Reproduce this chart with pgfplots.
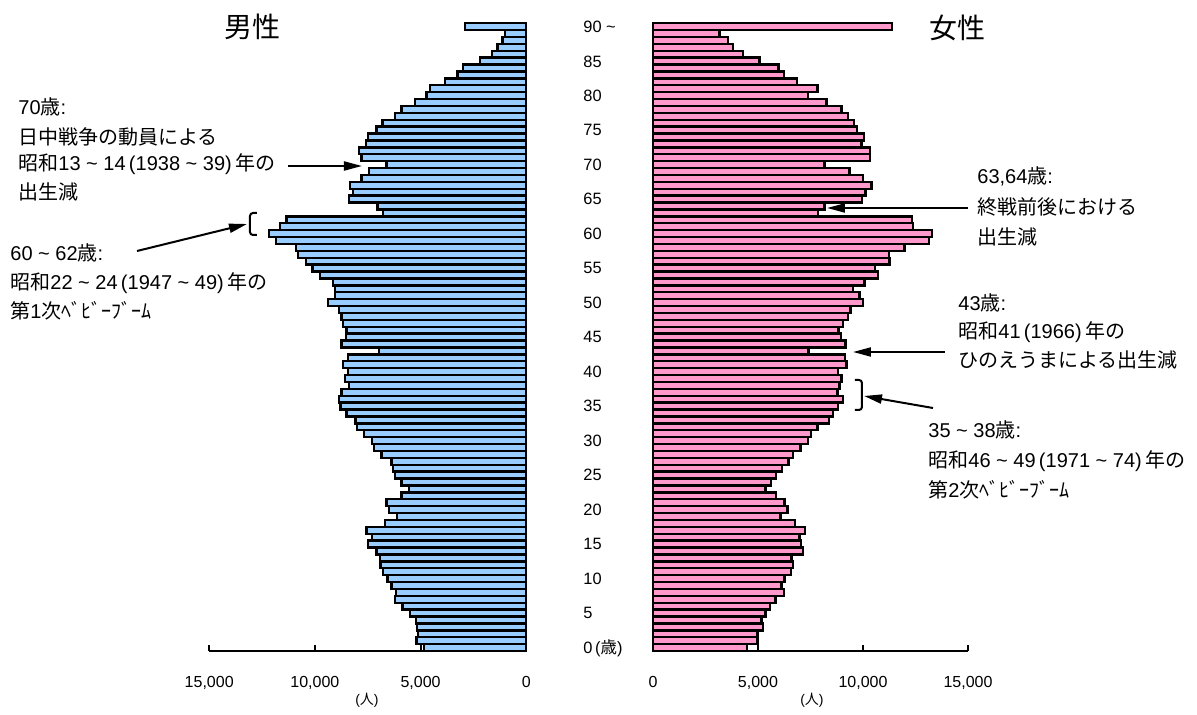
\documentclass[border=0pt]{standalone}
\usepackage{fontspec}
\setmainfont{Liberation Sans}
\newfontfamily\jp{Noto Sans CJK JP}
\usepackage{pgfplots}
\pgfplotsset{compat=1.18}
\usepackage{pgfplotstable}
\usetikzlibrary{arrows.meta}

\definecolor{malebar}{RGB}{153,204,255}
\definecolor{femalebar}{RGB}{255,153,204}
\newcommand{\J}[1]{{\jp #1}}
\newcommand{\tl}{\textasciitilde}

% population by age (persons), age 90 = 90 and over
\pgfplotstableread{
age male female
0 4840 4490
1 5190 4970
2 5110 4970
3 5160 5240
4 5220 5160
5 5500 5350
6 5850 5560
7 6210 5830
8 6170 6240
9 6370 6110
10 6560 6270
11 6770 6560
12 6890 6680
13 6920 6590
14 7080 7140
15 7480 7060
16 7290 6980
17 7560 7250
18 6690 6750
19 6100 6080
20 6500 6400
21 6610 6270
22 5900 5870
23 5540 5350
24 5900 5630
25 6210 5870
26 6290 6140
27 6370 6460
28 6850 6670
29 7210 7020
30 7290 7380
31 7680 7510
32 8000 7830
33 8080 8370
34 8500 8570
35 8790 8810
36 8850 9050
37 8740 8780
38 8390 8890
39 8580 8970
40 8420 8810
41 8660 9210
42 8420 9130
43 6960 7410
44 8740 9160
45 8530 8940
46 8500 8840
47 8660 9050
48 8740 9290
49 8850 9400
50 9370 10000
51 9050 9840
52 9050 9520
53 9130 10080
54 9760 10710
55 10110 10560
56 10430 11270
57 10790 11240
58 10900 11980
59 11850 13140
60 12180 13290
61 11660 12380
62 11340 12330
63 6770 7860
64 7030 8170
65 8390 9950
66 8190 10110
67 8340 10400
68 7790 10000
69 7430 9350
70 6610 8170
71 7790 10330
72 7900 10330
73 7590 9920
74 7480 10050
75 7080 9710
76 6800 9570
77 6210 9290
78 5900 8970
79 5270 8270
80 4720 7380
81 4560 7830
82 3850 6860
83 3260 6240
84 2980 5980
85 2190 5080
86 1610 4290
87 1360 3810
88 1120 3570
89 1010 3170
90 2900 11380
}\pyramid

\pgfplotsset{
  pyr/.style={
    scale only axis, anchor=south west,
    height=313.95bp,
    xmin=0, xmax=15000, ymin=-0.5, ymax=90.5,
    enlargelimits=false, clip=false,
    axis y line=none, axis x line*=bottom,
    axis line style={-, line width=1bp, black},
    xtick={0,5000,10000,15000},
    xticklabels={0,{5,000},{10,000},{15,000}},
    tick align=inside, major tick length=3bp,
    tick style={black, line width=1bp},
    xticklabel style={font=\fontsize{8bp}{9bp}\selectfont, yshift=-9bp},
  },
}

\begin{document}
\begin{tikzpicture}
\useasboundingbox (0,0) rectangle (598.5bp,-357.5bp);

% male
\begin{axis}[pyr, at={(104.6bp,-325.5bp)}, width=158.5bp, x dir=reverse]
\addplot[xbar, bar width=1, fill=malebar, draw=black, line width=1.2bp]
  table[x=male, y=age] {\pyramid};
\end{axis}

% female
\begin{axis}[pyr, at={(326.5bp,-325.5bp)}, width=157.5bp]
\addplot[xbar, bar width=1, fill=femalebar, draw=black, line width=1.2bp]
  table[x=female, y=age] {\pyramid};
\end{axis}

\begin{scope}[x=0.5bp, y=-0.5bp]
  % titles
  \node[anchor=base, inner sep=0, font=\fontsize{14bp}{16bp}\selectfont] at (253,37) {\J{男性}};
  \node[anchor=base, inner sep=0, font=\fontsize{14bp}{16bp}\selectfont] at (958,38) {\J{女性}};

  % age labels
  \begin{scope}[every node/.style={anchor=base west, inner sep=0, font=\fontsize{8.2bp}{9bp}\selectfont}]
    \node at (583,{647.5+6}) {0\,(\J{歳})};
    \foreach \a in {5,10,...,85} \node at (583,{647.5-6.9*\a+6}) {\a};
    \node at (583,{647.5-6.9*90+6}) {90 \tl};
  \end{scope}

  % units
  \node[inner sep=0, font=\fontsize{7bp}{8bp}\selectfont] at (367,700) {(\J{人})};
  \node[inner sep=0, font=\fontsize{7bp}{8bp}\selectfont] at (812,700) {(\J{人})};

  % annotations
  \begin{scope}[every node/.style={anchor=base west, inner sep=0, font=\fontsize{10bp}{12bp}\selectfont}]
    \node at (18,114.5) {70\J{歳}:};
    \node at (18,144.5) {\J{日中戦争の動員による}};
    \node at (18,171) {\J{昭和}13 \tl{} 14\,(1938 \tl{} 39)\,\J{年の}};
    \node at (18,200) {\J{出生減}};
    \node at (10,261) {60 \tl{} 62\J{歳}:};
    \node at (10,290) {\J{昭和}22 \tl{} 24\,(1947 \tl{} 49)\,\J{年の}};
    \node at (10,319) {\J{第}1\J{次ﾍﾞﾋﾞｰﾌﾞｰﾑ}};

    \node at (977,184) {63,64\J{歳}:};
    \node at (977,214.5) {\J{終戦前後における}};
    \node at (977,244.5) {\J{出生減}};
    \node at (958,310.5) {43\J{歳}:};
    \node at (958,338.5) {\J{昭和}41\,(1966)\,\J{年の}};
    \node at (958,367.5) {\J{ひのえうまによる出生減}};
    \node at (928,437.5) {35 \tl{} 38\J{歳}:};
    \node at (928,467.5) {\J{昭和}46 \tl{} 49\,(1971 \tl{} 74)\,\J{年の}};
    \node at (928,497.5) {\J{第}2\J{次ﾍﾞﾋﾞｰﾌﾞｰﾑ}};
  \end{scope}

  % arrows and brackets
  \begin{scope}[line width=1bp, -{Triangle[length=9bp, width=4.5bp]}]
    \draw (288,166) -- (362,166);
    \draw (137,251) -- (247,224);
    \draw (968,208) -- (827,208);
    \draw (945,352) -- (853,352);
    \draw (933,408) -- (864,396);
  \end{scope}
  \draw[line width=1bp, rounded corners=1.5bp] (257,213) -- (250,213) -- (250,235) -- (257,235);
  \draw[line width=1bp, rounded corners=1.5bp] (855,380) -- (862,380) -- (862,410) -- (855,410);
\end{scope}
\end{tikzpicture}
\end{document}
